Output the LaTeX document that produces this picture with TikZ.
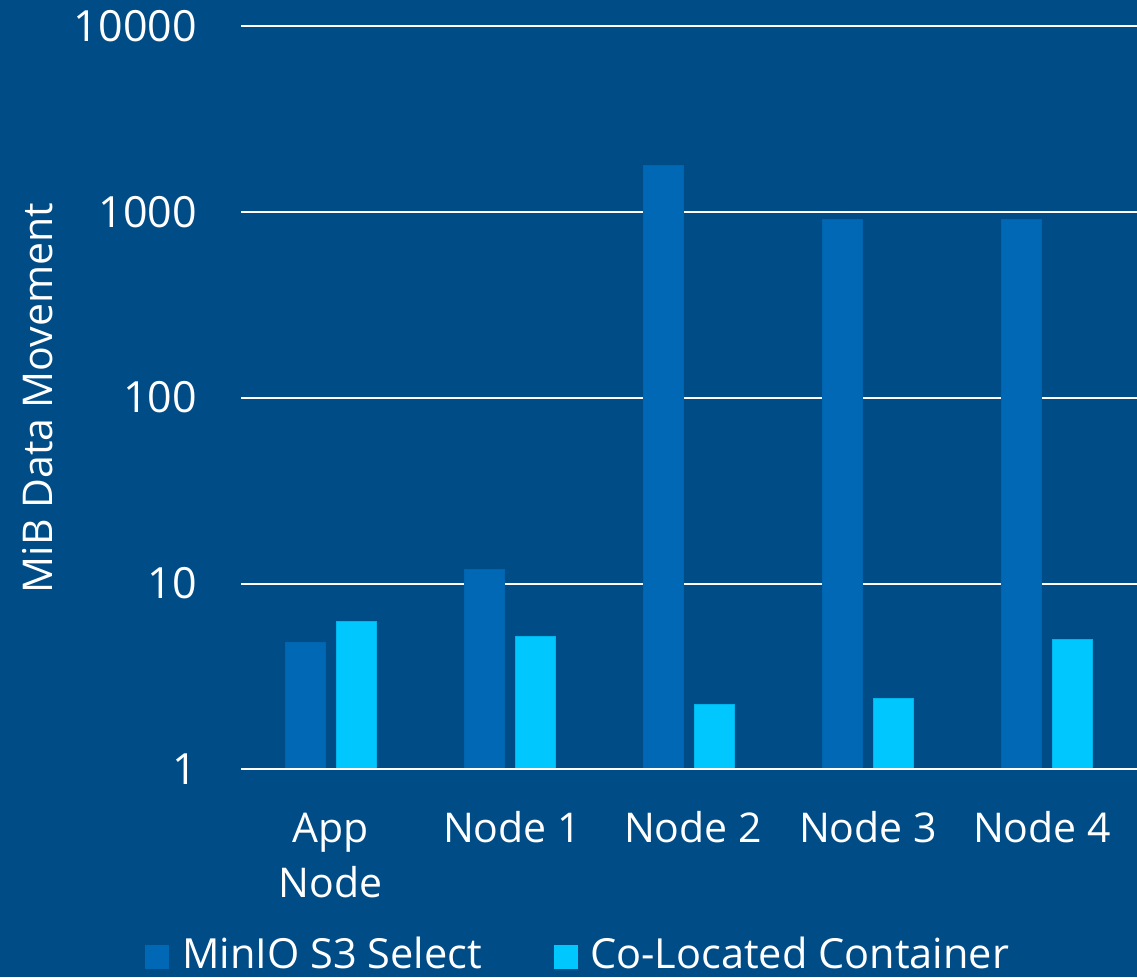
\documentclass[tikz,border=0pt]{standalone}
\usepackage{fontspec}
\setmainfont{Open Sans}
\definecolor{bgblue}{HTML}{004C87}
\definecolor{darkbar}{HTML}{0068B5}
\definecolor{lightbar}{HTML}{00C7FD}
\begin{document}
\begin{tikzpicture}[x=1pt,y=-1pt,
  lbl/.style={text=white,inner sep=0pt,font=\fontsize{41}{55}\selectfont},
  tick/.style={lbl,font=\fontsize{43}{55}\selectfont},
  legtext/.style={lbl,font=\fontsize{41.5}{55}\selectfont,text depth=0pt,anchor=base west},
  grid/.style={draw=white,line width=2pt},
  sbar/.style={fill=darkbar,draw=darkbar!85!bgblue,line width=0.8pt},
  cbar/.style={fill=lightbar,draw=lightbar!85!bgblue,line width=0.8pt}]
% background
\fill[bgblue] (0,0) rectangle (1137,977);
\useasboundingbox (0,0) rectangle (1137,977);
% gridlines and tick labels (log scale, one decade = 185.75)
\foreach \v/\y in {10000/26,1000/212,100/397.5,10/583.5}{
  \draw[grid] (241,\y) -- (1137,\y);
  \node[tick,anchor=east] (t\v) at (197,\y) {\v};
}
\node[tick,anchor=east] (t1) at (197,769) {1};
% bars: MinIO S3 Select
\foreach \x/\t in {285/642,464/569.5,643/165,822/219.5,1001/219.5}
  \draw[sbar] (\x,769) rectangle ++(40,\t-769);
% bars: co-located container
\foreach \x/\t in {336/621.5,515/636,694/704,873/698,1052/639}
  \draw[cbar] (\x,769) rectangle ++(40,\t-769);
% baseline
\draw[grid] (241,769) -- (1137,769);
% axis title
\node[lbl,rotate=90] (ytitle) at (38,398) {MiB Data Movement};
% category labels
\node[lbl,align=center,anchor=base] (cApp) at (330.5,897) {App\\Node};
\node[lbl,anchor=base] (c1) at (512,842) {Node 1};
\node[lbl,anchor=base] (c2) at (693,842) {Node 2};
\node[lbl,anchor=base] (c3) at (868,842) {Node 3};
\node[lbl,anchor=base] (c4) at (1042,842) {Node 4};
% legend
\fill[darkbar] (145,945) rectangle (169,969);
\node[legtext] (legS) at (182,968) {MinIO S3 Select};
\fill[lightbar] (554,945) rectangle (578,969);
\node[legtext] (legC) at (590,968) {Co-Located Container};
\end{tikzpicture}
\end{document}
